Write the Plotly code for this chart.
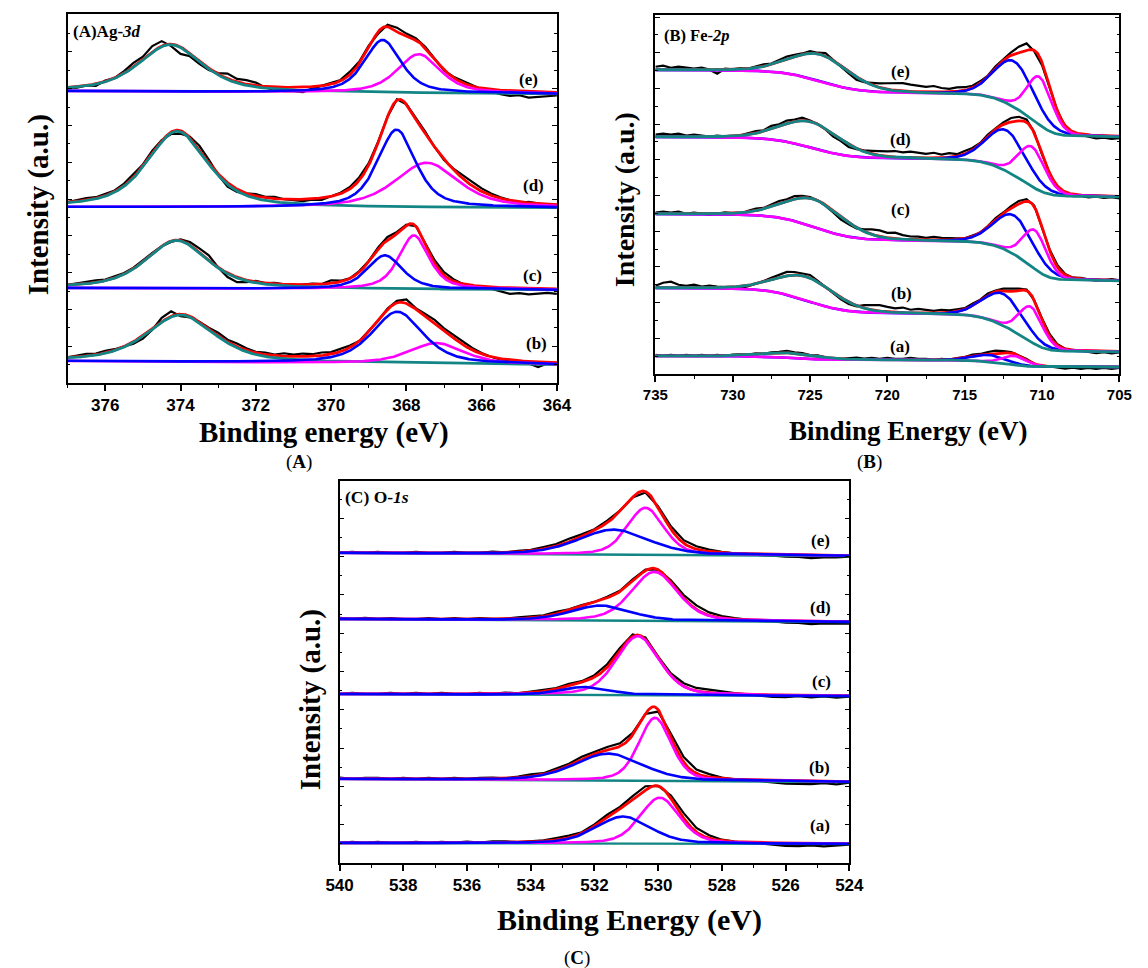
import math
import numpy as np
import plotly.graph_objects as go

W, H = 1148, 968

# ---------------- Panel A : Ag-3d ----------------
AG_TICKS = [376, 374, 372, 370, 368, 366, 364]
AG_LABELS = ["(e)", "(d)", "(c)", "(b)"]
AG_BG_LEFT = [292, 176, 95, 22]
AG_BG_RIGHT = [289, 175, 93, 18]
AG_TEAL_POS = [374.27, 374.09, 374.10, 374.00]
AG_TEAL_H = [47, 76, 48, 47]
AG_TEAL_W = [2.0, 1.9, 1.95, 2.15]
AG_BLUE_POS = [368.63, 368.26, 368.57, 368.24]
AG_BLUE_H = [53, 78, 34, 52]
AG_BLUE_W = [1.15, 1.2, 1.1, 1.6]
AG_MAG_POS = [367.67, 367.46, 367.80, 367.20]
AG_MAG_H = [39, 45, 54, 21]
AG_MAG_W = [1.35, 2.0, 0.95, 1.7]
AG_RES = [
    [-1, -1, 0, -2, 1, 0, 2, 4, 3, 6, 5, -2, -7, -3, -3, -2, 1, 5, 3, 4, 3, -1, -3, -4, -4, -5, -2, 0, 2, 1,
     3, 2, 2, -2, 2, 4, 3, 2, 1, 0, -1, 1, 2, 1, -1, -2, -4, -5, -4, -6, -5, -4, -3],
    [0, 1, 2, 1, 2, 1, 2, 3, 2, 3, 1, -2, -3, 1, 4, 3, -1, -4, -3, 0, 2, 1, 2, 0, -1, -2, -1, -2, 0, 1,
     2, 3, 2, 1, 0, 1, 0, 1, 2, 0, -1, 1, 3, 4, 3, 2, 1, 0, -1, 1, 0, -1, 0],
    [0, 1, 1, 2, 1, 2, 1, 1, 2, 1, 0, -1, 1, 3, 4, 5, 0, -4, -5, -2, 1, 0, 1, 0, -1, 0, 1, 0, 3, 1,
     0, 1, 1, 2, 3, 2, 1, 0, 1, 3, 3, 2, 0, -1, 0, -2, -4, -6, -5, -6, -5, -4, -5],
    [0, 1, 2, 1, 2, 1, 0, -2, -3, -1, 4, 5, -2, -1, 0, 1, 3, 2, 3, 2, 1, 2, 1, 3, 2, 3, 2, 3, 2, 3,
     2, 0, 1, 0, 1, 2, 4, 1, 2, 3, 2, 3, 3, 2, 1, 0, -1, 0, -1, -2, -5, -1, 0],
]

# ---------------- Panel B : Fe-2p ----------------
FE_TICKS = [735, 730, 725, 720, 715, 710, 705]
FE_LABELS = ["(e)", "(d)", "(c)", "(b)", "(a)"]
FE_BG_LEFT = [304, 237, 160, 86, 18]
FE_BG_RIGHT = [237, 177, 93, 22, 7]
FE_TEAL_POS = [724.3, 724.9, 724.7, 725.2, 726.2]
FE_TEAL_H = [27, 26, 28, 24, 5]
FE_TEAL_W = [4.5, 4.5, 4.5, 4.5, 4.0]
FE_BLUE_POS = [711.8, 712.3, 711.8, 712.5, 713.4]
FE_BLUE_H = [46, 41, 39, 32, 7]
FE_BLUE_W = [3.0, 3.0, 3.0, 3.0, 2.5]
FE_MAG_POS = [710.15, 710.65, 710.45, 710.7, 711.75]
FE_MAG_H = [48, 40, 39, 35, 9]
FE_MAG_W = [1.9, 2.0, 1.8, 1.8, 1.8]
FE_RES = [
    [3, 4, 2, 3, 2, 1, 2, 0, -4, 1, 0, 1, 0, 1, 2, 1, 2, 3, 2, 1, 2, 1, 3, 0, -1, -2, -3, -1, 2, 4,
     6, 7, 8, 7, 6, 5, 6, 4, 3, 4, 3, 2, 2, 1, 2, 1, 3, 6, 7, -1, -3, -1, 0, -1, -2, -1, -2, -3, -2, -3, -2],
    [2, 3, 2, 3, 1, 2, 1, 0, 1, 0, -1, 0, 1, 2, 1, 3, 2, 3, 2, 3, 1, 0, -1, -3, -2, -3, -1, 1, 3, 4,
     5, 6, 5, 6, 5, 4, 5, 3, 4, 2, 3, 2, 1, 2, 1, 2, 4, 4, 3, 1, -1, 0, -2, -1, -2, -1, -2, -1, -2, -1, -2],
    [1, 2, 1, 2, 0, 1, 0, -1, 0, 1, 0, -1, 1, 2, 1, 2, 3, 2, 3, 2, 1, 0, -1, -2, -3, -2, -1, 2, 5, 6,
     5, 6, 4, 3, 3, 2, 3, 2, 2, 1, 0, 1, 0, 1, 2, 1, 2, 3, 2, 1, 0, 1, 2, 1, 0, 1, 0, -1, 0, 1, 0],
    [2, 5, 6, 3, 2, 3, 1, 2, 1, 0, -1, -2, -1, 0, 1, 2, 3, 4, 3, 2, 3, 1, 0, -1, -2, -2, -1, 3, 5, 6,
     5, 4, 5, 3, 4, 3, 2, 3, 2, 2, 1, 2, 1, 2, 1, 2, 3, 2, 1, 0, 1, 2, 1, 0, -1, 0, -1, -2, -1, -2, -1],
    [1, 0, 1, 0, 1, 0, 1, 0, 1, 0, 1, 1, 0, 1, 0, 1, 1, 2, 1, 1, 0, 1, 0, -1, 0, 1, 2, 1, 2, 1,
     2, 1, 1, 2, 1, 1, 0, 1, 0, 1, 1, 2, 1, 2, 3, 2, 1, 0, 1, 0, -1, 0, -1, -2, -1, -2, -1, -2, -1, -2, -1],
]

# ---------------- Panel C : O-1s ----------------
O_TICKS = [540, 538, 536, 534, 532, 530, 528, 526, 524]
O_LABELS = ["(e)", "(d)", "(c)", "(b)", "(a)"]
O_BG_LEFT = [310, 244, 169, 84, 20]
O_BG_RIGHT = [307, 241, 167, 81, 19]
O_MAG_POS = [530.40, 530.12, 530.64, 530.10, 529.95]
O_MAG_H = [47, 49, 59, 63, 46]
O_MAG_W = [1.35, 1.7, 1.6, 1.2, 1.45]
O_BLUE_POS = [531.4, 531.8, 532.3, 531.56, 531.1]
O_BLUE_H = [25, 15, 8, 27, 27]
O_BLUE_W = [2.6, 2.2, 1.8, 2.5, 2.0]
O_RES = [
    [0, 1, 0, 1, 0, 0, 1, 0, 0, 1, 0, 0, 1, 0, 1, 1, 2, 2, 3, 2, 1, 2, 1, 0, -1, 1, 3, 3, 3, 2,
     1, 0, 0, -1, -1, -2, -2, -3, -2, -2, -1],
    [1, 0, 1, 0, 1, 0, 0, 1, 0, 1, 0, 1, 0, 0, 1, 1, 1, 2, 1, 1, 0, 1, 1, 2, 1, 0, 2, 3, 4, 3,
     2, 1, 0, -1, -1, -2, -2, -3, -2, -2, -2],
    [0, 1, 0, 0, 1, 0, 1, 0, 1, 0, 0, 1, 0, 1, 0, 1, 1, 1, 2, 1, 2, 3, 3, 2, 2, 1, 2, 3, 3, 3,
     2, 1, 0, -1, -2, -2, -1, -2, -1, -2, -1],
    [1, 0, 1, 1, 0, 1, 0, 1, 0, 1, 0, 1, 1, 0, 1, 2, 1, 2, 2, 3, 2, 3, 3, 2, 0, -2, 3, 5, 4, 3,
     1, 0, 0, -1, -2, -3, -3, -3, -2, -3, -1],
    [0, 1, 0, 1, 0, 0, 1, 0, 1, 0, 1, 0, 1, 1, 0, 1, 1, 2, 2, 1, 2, 3, 2, 4, 4, 0, 3, 5, 4, 3,
     1, 0, -1, -1, -2, -3, -3, -2, -3, -2, -1],
]

BLACK, RED, BLUE, MAG, TEAL = "#000000", "#FF0000", "#0000FF", "#FF00FF", "#138585"
SERIF = "Liberation Serif"
SANS = "Liberation Sans"

_erf = np.vectorize(math.erf)


def pv(x, c, h, w, eta):
    d = (x - c) / (w / 2.0)
    return h * (eta / (1 + d * d) + (1 - eta) * np.exp(-math.log(2) * d * d))


def pv_cdf(x, c, h, w, eta):
    hw = w / 2.0
    sig = hw / math.sqrt(2 * math.log(2))
    lor = hw * np.arctan((x - c) / hw)
    gau = sig * math.sqrt(math.pi / 2) * _erf((x - c) / (sig * math.sqrt(2)))
    return h * (eta * lor + (1 - eta) * gau)


def background(x, kind, left, right, peaks, xmin, xmax):
    x = np.asarray(x, dtype=float)
    if kind == "linear":
        return right + (left - right) * (x - xmin) / (xmax - xmin)
    F = lambda z: sum(pv_cdf(np.asarray(z, dtype=float), *p) for p in peaks)
    f0, f1 = F(xmin), F(xmax)
    return right + (left - right) * (F(x) - f0) / (f1 - f0)


fig = go.Figure()


def add_panel(ax, xmin, xmax, step, kind, eta, bgl, bgr, comps, res_lists, order):
    xs = "x" if ax == 1 else f"x{ax}"
    ys = "y" if ax == 1 else f"y{ax}"
    xf = np.linspace(xmin, xmax, 700)
    for k in range(len(bgl)):
        peaks = [(c[0][k], c[1][k], c[2][k], eta) for c in comps.values()]
        bgf = background(xf, kind, bgl[k], bgr[k], peaks, xmin, xmax)
        env = bgf + sum(pv(xf, *p) for p in peaks)
        xd = xmax - step * np.arange(len(res_lists[k]))
        bgd = background(xd, kind, bgl[k], bgr[k], peaks, xmin, xmax)
        envd = bgd + sum(pv(xd, *p) for p in peaks) + np.array(res_lists[k], dtype=float)
        lines = {"black": (xd, envd, BLACK, 2.2), "red": (xf, env, RED, 2.8)}
        for name, (c, h, w) in comps.items():
            col = {"teal": TEAL, "blue": BLUE, "mag": MAG}[name]
            lines[name] = (xf, bgf + pv(xf, c[k], h[k], w[k], eta), col, 2.6 if name != "teal" else 2.8)
        if "teal" not in comps:
            lines["teal"] = (xf, bgf, TEAL, 2.4)
        for name in order:
            x, y, col, lw = lines[name]
            fig.add_trace(go.Scatter(x=x, y=y, mode="lines", line=dict(color=col, width=lw),
                                     xaxis=xs, yaxis=ys, showlegend=False, hoverinfo="skip"))


add_panel(1, 364, 377, 0.25, "linear", 0.6, AG_BG_LEFT, AG_BG_RIGHT,
          {"teal": (AG_TEAL_POS, AG_TEAL_H, AG_TEAL_W),
           "blue": (AG_BLUE_POS, AG_BLUE_H, AG_BLUE_W),
           "mag": (AG_MAG_POS, AG_MAG_H, AG_MAG_W)},
          AG_RES, ["black", "red", "teal", "mag", "blue"])
add_panel(2, 705, 735, 0.5, "shirley", 0.2, FE_BG_LEFT, FE_BG_RIGHT,
          {"teal": (FE_TEAL_POS, FE_TEAL_H, FE_TEAL_W),
           "blue": (FE_BLUE_POS, FE_BLUE_H, FE_BLUE_W),
           "mag": (FE_MAG_POS, FE_MAG_H, FE_MAG_W)},
          FE_RES, ["black", "red", "blue", "mag", "teal"])
add_panel(3, 524, 540, 0.4, "linear", 0.35, O_BG_LEFT, O_BG_RIGHT,
          {"blue": (O_BLUE_POS, O_BLUE_H, O_BLUE_W),
           "mag": (O_MAG_POS, O_MAG_H, O_MAG_W)},
          O_RES, ["black", "red", "teal", "mag", "blue"])


def px(x):
    return x / W


def py(y):
    return 1 - y / H


def xax(domain, rng, ticks, minor, fsize):
    return dict(domain=domain, range=rng, tickvals=ticks, ticks="outside", ticklen=6, tickwidth=1.5,
                tickcolor="black", minor=dict(dtick=minor, ticks="outside", ticklen=3, tickwidth=1.2,
                                              tickcolor="black"),
                showline=True, linecolor="black", linewidth=1.6, mirror=True, showgrid=False,
                zeroline=False, tickfont=dict(family=SANS, size=fsize, color="black", weight="bold"))


def yax(domain, top, dt, anchor):
    return dict(domain=domain, range=[0, top], anchor=anchor, showticklabels=False, ticks="inside",
                tick0=0, dtick=dt, ticklen=5, tickwidth=1.2, tickcolor="black",
                minor=dict(dtick=dt / 2, ticks="inside", ticklen=3, tickwidth=1, tickcolor="black"),
                showline=True, linecolor="black", linewidth=1.6, mirror="ticks", showgrid=False,
                zeroline=False)


fig.update_layout(
    width=W, height=H, margin=dict(l=0, r=0, t=0, b=0), plot_bgcolor="white", paper_bgcolor="white",
    xaxis=dict(**xax([px(55), px(557)], [377, 364], AG_TICKS, 1, 17), anchor="y"),
    yaxis=yax([py(383), py(14)], 369, 36.8, "x"),
    xaxis2=dict(**xax([px(658), px(1134)], [735, 705], FE_TICKS, 2.5, 15), anchor="y2"),
    yaxis2=yax([py(374), py(15)], 359, 35.7, "x2"),
    xaxis3=dict(**xax([px(334), px(857)], [540, 524], O_TICKS, 1, 17), anchor="y3"),
    yaxis3=yax([py(863), py(481)], 382, 38.3, "x3"),
)

ann = []


def text(x, y, s, size, angle=0, xanchor="center", family=SERIF):
    ann.append(dict(x=px(x), y=py(y), xref="paper", yref="paper", text=s, showarrow=False,
                    textangle=angle, xanchor=xanchor, yanchor="middle",
                    font=dict(family=family, size=size, color="black")))


text(58, 31, "<b>(A)Ag-<i>3d</i></b>", 17, xanchor="left")
text(665, 35, "<b>(B) Fe-<i>2p</i></b>", 16.5, xanchor="left")
text(338, 497, "<b>(C) O-<i>1s</i></b>", 17.5, xanchor="left")

for lab, (x, y) in zip(AG_LABELS, [(528, 80), (533, 186), (532, 275), (536, 344)]):
    text(x, y, f"<b>{lab}</b>", 17)
for lab, (x, y) in zip(FE_LABELS, [(909, 71), (909, 140), (909, 209), (911, 294), (909, 346)]):
    text(x, y, f"<b>{lab}</b>", 17)
for lab, (x, y) in zip(O_LABELS, [(827, 540), (827, 607), (828, 681), (826, 767), (827, 825)]):
    text(x, y, f"<b>{lab}</b>", 17)

text(25, 205, "<b>Intensity (a.u.)</b>", 29, angle=-90)
text(627, 200, "<b>Intensity (a.u.)</b>", 28, angle=-90)
text(304, 700, "<b>Intensity (a.u.)</b>", 29, angle=-90)

text(318, 432, "<b>Binding energy (eV)</b>", 29)
text(918, 431, "<b>Binding Energy (eV)</b>", 27)
text(631, 920, "<b>Binding Energy (eV)</b>", 30)

text(292, 462, "(<b>A</b>)", 19)
text(878, 462, "(<b>B</b>)", 19)
text(578, 958, "(<b>C</b>)", 19)

fig.update_layout(annotations=ann)

fig.write_html("out.html", config={"displayModeBar": False},
               post_script="document.body.style.margin='0';document.body.style.overflow='hidden';")
